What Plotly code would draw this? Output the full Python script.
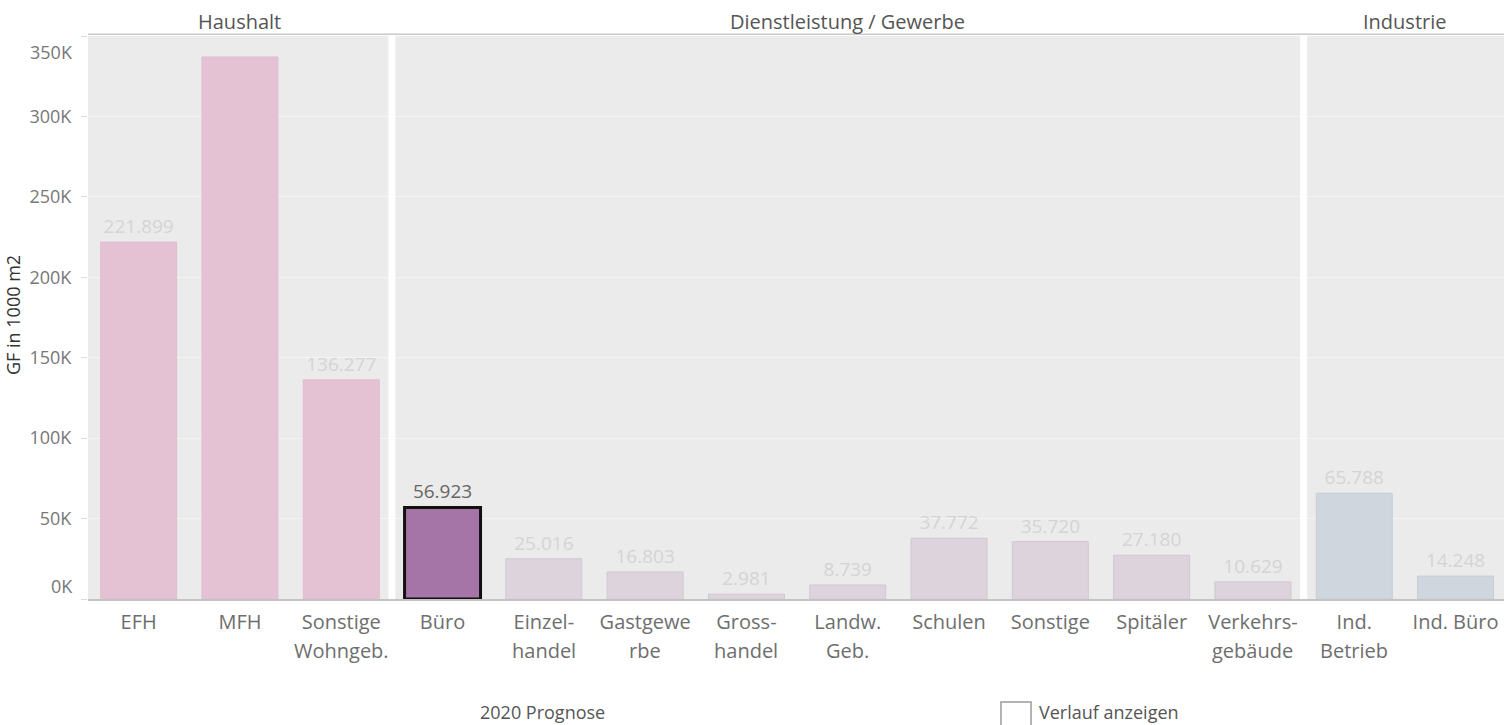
import plotly.graph_objects as go

# ---- data ----
categories = ["EFH", "MFH", "Sonstige\nWohngeb.", "Büro", "Einzel-\nhandel", "Gastgewe\nrbe",
              "Gross-\nhandel", "Landw.\nGeb.", "Schulen", "Sonstige", "Spitäler",
              "Verkehrs-\ngebäude", "Ind.\nBetrieb", "Ind. Büro"]
values = [221899, 337000, 136277, 56923, 25016, 16803, 2981, 8739, 37772, 35720, 27180,
          10629, 65788, 14248]
groups = ["Haushalt"] * 3 + ["Dienstleistung / Gewerbe"] * 9 + ["Industrie"] * 2
group_names = ["Haushalt", "Dienstleistung / Gewerbe", "Industrie"]
highlight = "Büro"
show_label = [True, False] + [True] * 12
y_tickvals = [0, 50000, 100000, 150000, 200000, 250000, 300000, 350000]
y_ticktext = ["0K", "50K", "100K", "150K", "200K", "250K", "300K", "350K"]
footer_left = "2020 Prognose"
footer_check = "Verlauf anzeigen"

# ---- layout constants ----
W, H = 1504, 725
L, R, T, B = 88, 0, 36, 126
PW, PH = W - L - R, H - T - B
FONT = "Open Sans, Noto Sans, sans-serif"

def px_x(px):
    return (px - L) / PW

def px_y(py):
    return (H - B - py) / PH

group_fill = {"Haushalt": "#e5c1d4", "Dienstleistung / Gewerbe": "#ddd3dd", "Industrie": "#d0d6de"}
group_line = {"Haushalt": "#e0bdd0", "Dienstleistung / Gewerbe": "#d2c7d2", "Industrie": "#c6cdd7"}

fills, lines, lwidths, tcolors, texts = [], [], [], [], []
for c, g, v, s in zip(categories, groups, values, show_label):
    if c == highlight:
        fills.append("#a675a8"); lines.append("#111111"); lwidths.append(3); tcolors.append("#666666")
    else:
        fills.append(group_fill[g]); lines.append(group_line[g]); lwidths.append(1); tcolors.append("#d4d4d4")
    texts.append(f"{v:,.0f}".replace(",", ".") if s else "")

line1 = [c.split("\n")[0] for c in categories]
line2 = [c.split("\n")[1] if "\n" in c else "" for c in categories]

fig = go.Figure()
fig.add_trace(go.Bar(
    x=categories, y=values, width=0.75,
    marker=dict(color=fills, line=dict(color=lines, width=lwidths)),
    text=texts, textposition="outside", cliponaxis=False,
    textfont=dict(family=FONT, size=19, color=tcolors),
    hoverinfo="x+y",
))

annotations = []
# second lines of category labels
for c, l2 in zip(categories, line2):
    if l2:
        annotations.append(dict(x=c, xref="x", y=0, yref="paper", yshift=-51, text=l2,
                                showarrow=False, yanchor="middle", xanchor="center",
                                font=dict(family=FONT, size=20, color="#6e6e6e")))
# group headers
for gname in group_names:
    idx = [i for i, g in enumerate(groups) if g == gname]
    center = (idx[0] + idx[-1]) / 2
    annotations.append(dict(x=center, xref="x", y=1, yref="paper", yshift=15, text=gname,
                            showarrow=False, yanchor="middle", xanchor="center",
                            font=dict(family=FONT, size=20, color="#555555")))
# shifted end tick labels (0K, 350K)
annotations.append(dict(x=0, xref="paper", xshift=-13, y=y_tickvals[0], yref="y", yshift=13,
                        text=y_ticktext[0], showarrow=False, xanchor="right", yanchor="middle",
                        font=dict(family=FONT, size=18, color="#777777")))
annotations.append(dict(x=0, xref="paper", xshift=-13, y=y_tickvals[-1], yref="y", yshift=-16,
                        text=y_ticktext[-1], showarrow=False, xanchor="right", yanchor="middle",
                        font=dict(family=FONT, size=18, color="#777777")))
# y title
annotations.append(dict(x=px_x(13), xref="paper", y=px_y(315), yref="paper", text="GF in 1000 m2",
                        textangle=-90, showarrow=False, xanchor="center", yanchor="middle",
                        font=dict(family=FONT, size=18, color="#333333")))
# footer
annotations.append(dict(x=px_x(478), xref="paper", y=px_y(712), yref="paper", text=footer_left,
                        showarrow=False, xanchor="left", yanchor="middle",
                        font=dict(family=FONT, size=18, color="#555555")))
annotations.append(dict(x=px_x(1037), xref="paper", y=px_y(712), yref="paper", text=footer_check,
                        showarrow=False, xanchor="left", yanchor="middle",
                        font=dict(family=FONT, size=18, color="#555555")))

shapes = []
# white separators between groups
bounds = [i for i in range(1, len(groups)) if groups[i] != groups[i - 1]]
for b in bounds:
    shapes.append(dict(type="line", xref="x", yref="paper", x0=b - 0.5, x1=b - 0.5, y0=0, y1=1,
                       line=dict(color="white", width=7), layer="above"))
# header line
shapes.append(dict(type="line", xref="paper", yref="paper", x0=0, x1=1, y0=1.003, y1=1.003,
                   line=dict(color="#c9c9c9", width=1.5)))
# checkbox
shapes.append(dict(type="rect", xref="paper", yref="paper", x0=px_x(1001), x1=px_x(1031),
                   y0=px_y(732), y1=px_y(702), line=dict(color="#9a9a9a", width=1.5),
                   fillcolor="white"))

fig.update_layout(
    width=W, height=H,
    margin=dict(l=L, r=R, t=T, b=B, pad=0),
    paper_bgcolor="white", plot_bgcolor="#ebebeb",
    showlegend=False, bargap=0.25,
    font=dict(family=FONT, color="#666666"),
    xaxis=dict(categoryorder="array", categoryarray=categories, tickvals=categories,
               ticktext=line1, range=[-0.5, -0.5 + PW / 101.3], showgrid=False,
               showline=True, linecolor="#c3c3c3", linewidth=1.5, ticks="",
               tickfont=dict(family=FONT, size=20, color="#6e6e6e"), ticklabelstandoff=4,
               fixedrange=True, zeroline=False),
    yaxis=dict(range=[0, 350000], tickvals=y_tickvals,
               ticktext=[""] + y_ticktext[1:-1] + [""],
               showgrid=True, gridcolor="#f4f4f4", gridwidth=1, zeroline=False,
               ticks="outside", ticklen=6, tickcolor="#dddddd", ticklabelstandoff=6,
               tickfont=dict(family=FONT, size=18, color="#777777"), fixedrange=True),
    annotations=annotations, shapes=shapes,
)

fig.write_html("out.html")
